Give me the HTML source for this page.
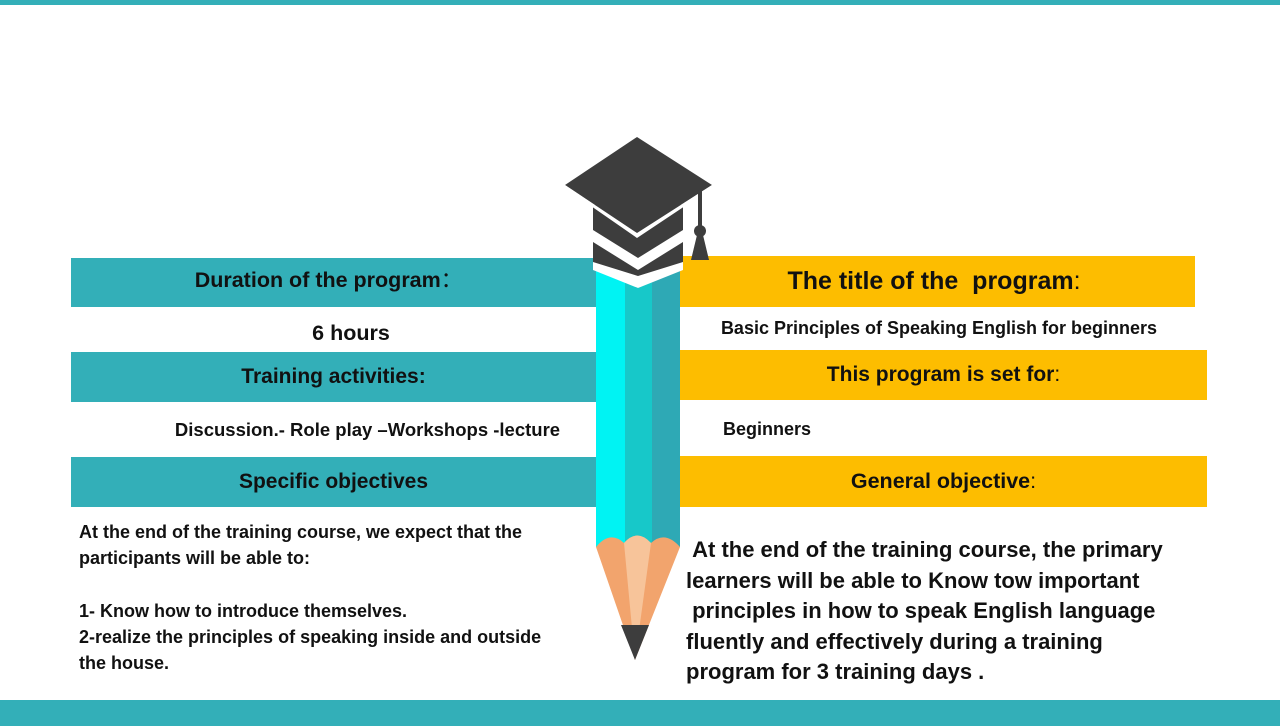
<!DOCTYPE html>
<html><head><meta charset="utf-8"><style>
body{margin:0;width:1280px;height:726px;position:relative;background:#fff;overflow:hidden;font-family:"Liberation Sans",sans-serif;font-weight:bold;color:#111}
.a{position:absolute}
.t{background:#33afb8}
.y{background:#fdbd00}
.c{display:flex;align-items:center;justify-content:center;white-space:nowrap}
</style></head><body>
<div class="a t" style="left:0;top:0;width:1280px;height:5px"></div>
<div class="a t" style="left:0;top:700px;width:1280px;height:26px"></div>

<div class="a t c" style="left:71px;top:258px;width:525px;height:49px;font-size:21.5px"><span style="margin-left:-10px;margin-top:-8px">Duration of the program<span style="font-weight:normal">：</span></span></div>
<div class="a c" style="left:71px;top:312px;width:560px;height:42px;font-size:21.5px">6 hours</div>
<div class="a t c" style="left:71px;top:352px;width:525px;height:50px;font-size:21px">Training activities:</div>
<div class="a c" style="left:150px;top:410px;width:435px;height:40px;font-size:18.5px">Discussion.- Role play –Workshops -lecture</div>
<div class="a t c" style="left:71px;top:457px;width:525px;height:50px;font-size:21px">Specific objectives</div>
<div class="a" style="left:79px;top:519px;font-size:18px;line-height:26.3px;white-space:nowrap">At the end of the training course, we expect that the<br>participants will be able to:<br><br>1- Know how to introduce themselves.<br>2-realize the principles of speaking inside and outside<br>the house.</div>

<div class="a y c" style="left:673px;top:256px;width:522px;height:51px;font-size:25px">The title of the&nbsp; program<span style="font-weight:normal">:</span></div>
<div class="a c" style="left:680px;top:312px;width:518px;height:32px;font-size:18px">Basic Principles of Speaking English for beginners</div>
<div class="a y c" style="left:680px;top:350px;width:527px;height:50px;font-size:21px">This program is set for<span style="font-weight:normal">:</span></div>
<div class="a" style="left:723px;top:419px;font-size:18px">Beginners</div>
<div class="a y c" style="left:680px;top:456px;width:527px;height:51px;font-size:21.5px">General objective<span style="font-weight:normal">:</span></div>
<div class="a" style="left:686px;top:535px;font-size:22px;line-height:30.5px;white-space:nowrap">&nbsp;At the end of the training course, the primary<br>learners will be able to Know tow important<br>&nbsp;principles in how to speak English language<br>fluently and effectively during a training<br>program for 3 training days .</div>

<svg class="a" style="left:0;top:0" width="1280" height="726">
  <rect x="596" y="262" width="29" height="285" fill="#00f3f3"/>
  <rect x="625" y="262" width="27" height="285" fill="#17c8c9"/>
  <rect x="652" y="262" width="28" height="285" fill="#2ea9b5"/>
  <path d="M596,547 Q610,530 624,543 Q637,528 651,543 Q665,530 680,547 L635,660 Z" fill="#f2a46d"/>
  <path d="M624,543 Q637,528 651,543 L635,660 Z" fill="#f7c49a"/>
  <polygon points="621,625 649,625 635,660" fill="#3d3d3d"/>
  <polygon points="593,205 683,205 683,262 638,288 593,262" fill="#3d3d3d"/>
  <polygon points="593,230 638,258 683,230 683,242 638,270 593,242" fill="#fff"/>
  <polygon points="593,262 638,276 683,262 683,270 638,288 593,270" fill="#fff"/>
  <polygon points="565,185 637,137 712,185 637,233" fill="#3d3d3d"/>
  <polygon points="565,185 637,233 712,185 712,188 637,238 565,188" fill="#fff"/>
  <rect x="698" y="186" width="4" height="45" fill="#3d3d3d"/>
  <circle cx="700" cy="231" r="6" fill="#3d3d3d"/>
  <polygon points="697,235 703,235 709,260 691,260" fill="#3d3d3d"/>
</svg>
</body></html>
